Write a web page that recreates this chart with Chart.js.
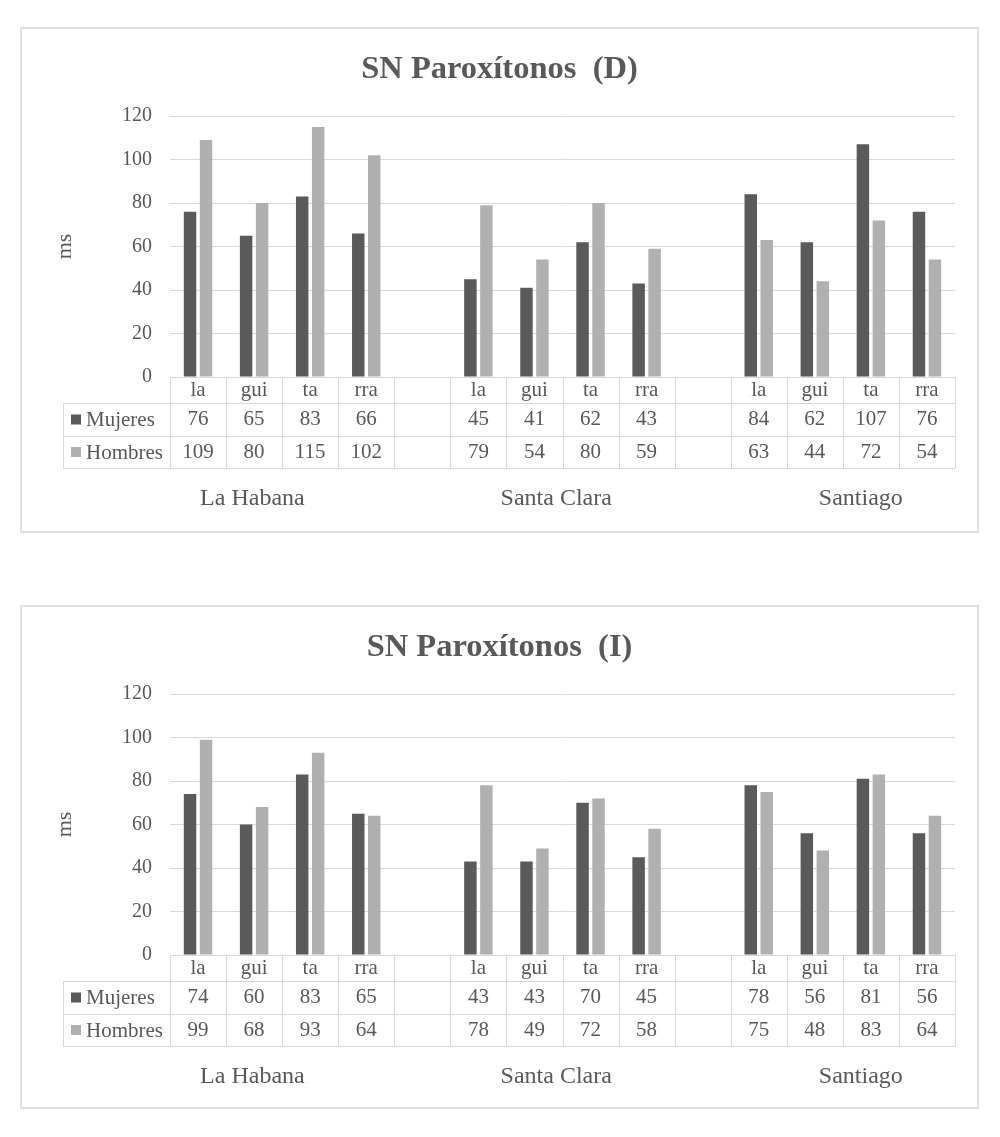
<!DOCTYPE html>
<html>
<head>
<meta charset="utf-8">
<script src="https://cdn.jsdelivr.net/npm/chart.js@4.4.0/dist/chart.umd.min.js"></script>
<style>
  body { margin: 0; background: #fff; }
  .frame { position: absolute; left: 20px; width: 959px; border: 2px solid #e0e0e0; box-sizing: border-box; background: #fff; }
  .frame canvas { display: block; }
</style>
</head>
<body>
<div class="frame" style="top:27px;height:506px;"><canvas id="chartD"></canvas></div>
<div class="frame" style="top:605px;height:504px;"><canvas id="chartI"></canvas></div>
<script>
// categories (blank entries are the gaps between cities)
var syllables = ['la', 'gui', 'ta', 'rra'];
var cities = ['La Habana', 'Santa Clara', 'Santiago'];
var yTicks = [0, 20, 40, 60, 80, 100, 120];

// SN Paroxitonos (D)
var mujeresD = [76, 65, 83, 66, 45, 41, 62, 43, 84, 62, 107, 76];
var hombresD = [109, 80, 115, 102, 79, 54, 80, 59, 63, 44, 72, 54];

// SN Paroxitonos (I)
var mujeresI = [74, 60, 83, 65, 43, 43, 70, 45, 78, 56, 81, 56];
var hombresI = [99, 68, 93, 64, 78, 49, 72, 58, 75, 48, 83, 64];

var FONT = "'Liberation Serif', 'Times New Roman', serif";
var TEXT = '#595959';
var LINE = '#d9d9d9';
var DARK = '#5a5a5a';
var LIGHT = '#b0b0b0';

// insert a blank slot after every city but the last
function withGaps(values) {
    var out = [];
    for (var c = 0; c < cities.length; c++) {
        for (var s = 0; s < syllables.length; s++) {
            out.push(values[c * syllables.length + s]);
        }
        if (c < cities.length - 1) out.push(null);
    }
    return out;
}

var labels = withGaps(syllables.concat(syllables, syllables)).map(function(l){ return l === null ? '' : l; });

// data table under the plot, drawn from the x scale and datasets
var tablePlugin = {
    id: 'dataTable',
    afterDraw: function(chart) {
        var ctx = chart.ctx;
        var area = chart.chartArea;
        var xs = chart.scales.x;
        var n = chart.data.labels.length;
        var w = (area.right - area.left) / n;
        var y0 = area.bottom;
        var rows = [y0, y0 + 26, y0 + 59, y0 + 91];
        var legendLeft = 41;

        ctx.save();
        ctx.strokeStyle = LINE;
        ctx.lineWidth = 1;
        ctx.beginPath();
        ctx.moveTo(area.left, rows[0] + 0.5); ctx.lineTo(area.right, rows[0] + 0.5);
        for (var r = 1; r < rows.length; r++) {
            ctx.moveTo(legendLeft, rows[r] + 0.5); ctx.lineTo(area.right, rows[r] + 0.5);
        }
        for (var i = 0; i <= n; i++) {
            var xx = Math.round(area.left + i * w) + 0.5;
            ctx.moveTo(xx, rows[0]); ctx.lineTo(xx, rows[3]);
        }
        ctx.moveTo(legendLeft + 0.5, rows[1]); ctx.lineTo(legendLeft + 0.5, rows[3]);
        ctx.stroke();

        ctx.fillStyle = TEXT;
        ctx.font = '21px ' + FONT;
        ctx.textAlign = 'center';
        ctx.textBaseline = 'middle';
        for (var i = 0; i < n; i++) {
            var cx = xs.getPixelForValue(i);
            ctx.fillText(chart.data.labels[i], cx, (rows[0] + rows[1]) / 2);
            chart.data.datasets.forEach(function(ds, d) {
                var v = ds.data[i];
                if (v !== null) ctx.fillText(v, cx, (rows[d + 1] + rows[d + 2]) / 2);
            });
        }

        // legend keys in the row headers
        ctx.textAlign = 'left';
        chart.data.datasets.forEach(function(ds, d) {
            var cy = (rows[d + 1] + rows[d + 2]) / 2;
            ctx.fillStyle = ds.backgroundColor;
            ctx.fillRect(legendLeft + 8, cy - 5, 10, 10);
            ctx.fillStyle = TEXT;
            ctx.fillText(ds.label, legendLeft + 23, cy + 1);
        });

        // city labels
        var pos = [0.105, 0.492, 0.880];
        ctx.font = '24px ' + FONT;
        ctx.textAlign = 'center';
        cities.forEach(function(c, k) {
            ctx.fillText(c, area.left + pos[k] * (area.right - area.left), rows[3] + 31);
        });
        ctx.restore();
    }
};

function makeChart(id, title, mujeres, hombres, height) {
    var canvas = document.getElementById(id);
    canvas.width = 955;
    canvas.height = height;
    canvas.style.width = '955px';
    canvas.style.height = height + 'px';
    return new Chart(canvas.getContext('2d'), {
        type: 'bar',
        data: {
            labels: labels,
            datasets: [
                { label: 'Mujeres', data: withGaps(mujeres), backgroundColor: DARK,
                  barPercentage: 0.78, categoryPercentage: 0.57 },
                { label: 'Hombres', data: withGaps(hombres), backgroundColor: LIGHT,
                  barPercentage: 0.78, categoryPercentage: 0.57 }
            ]
        },
        options: {
            responsive: false,
            animation: false,
            layout: { padding: { left: 22, right: 22, top: 0, bottom: height - 348 } },
            plugins: {
                legend: { display: false },
                tooltip: { enabled: false },
                title: {
                    display: true, text: title, color: TEXT,
                    font: { family: FONT, size: 32.5, weight: 'bold' },
                    padding: { top: 21, bottom: 27 }
                }
            },
            scales: {
                x: { display: false },
                y: {
                    min: 0, max: 120,
                    afterBuildTicks: function(axis) {
                        axis.ticks = yTicks.map(function(v){ return { value: v }; });
                    },
                    afterFit: function(axis) { axis.width = 126; },
                    border: { display: false },
                    grid: { color: LINE, drawTicks: false },
                    ticks: { color: TEXT, padding: 18, font: { family: FONT, size: 20 } },
                    title: {
                        display: true, text: 'ms', color: TEXT,
                        font: { family: FONT, size: 22 },
                        padding: { top: 8, bottom: 0 }
                    }
                }
            }
        },
        plugins: [tablePlugin]
    });
}

makeChart('chartD', 'SN Paroxítonos  (D)', mujeresD, hombresD, 502);
makeChart('chartI', 'SN Paroxítonos  (I)', mujeresI, hombresI, 500);
</script>
</body>
</html>
